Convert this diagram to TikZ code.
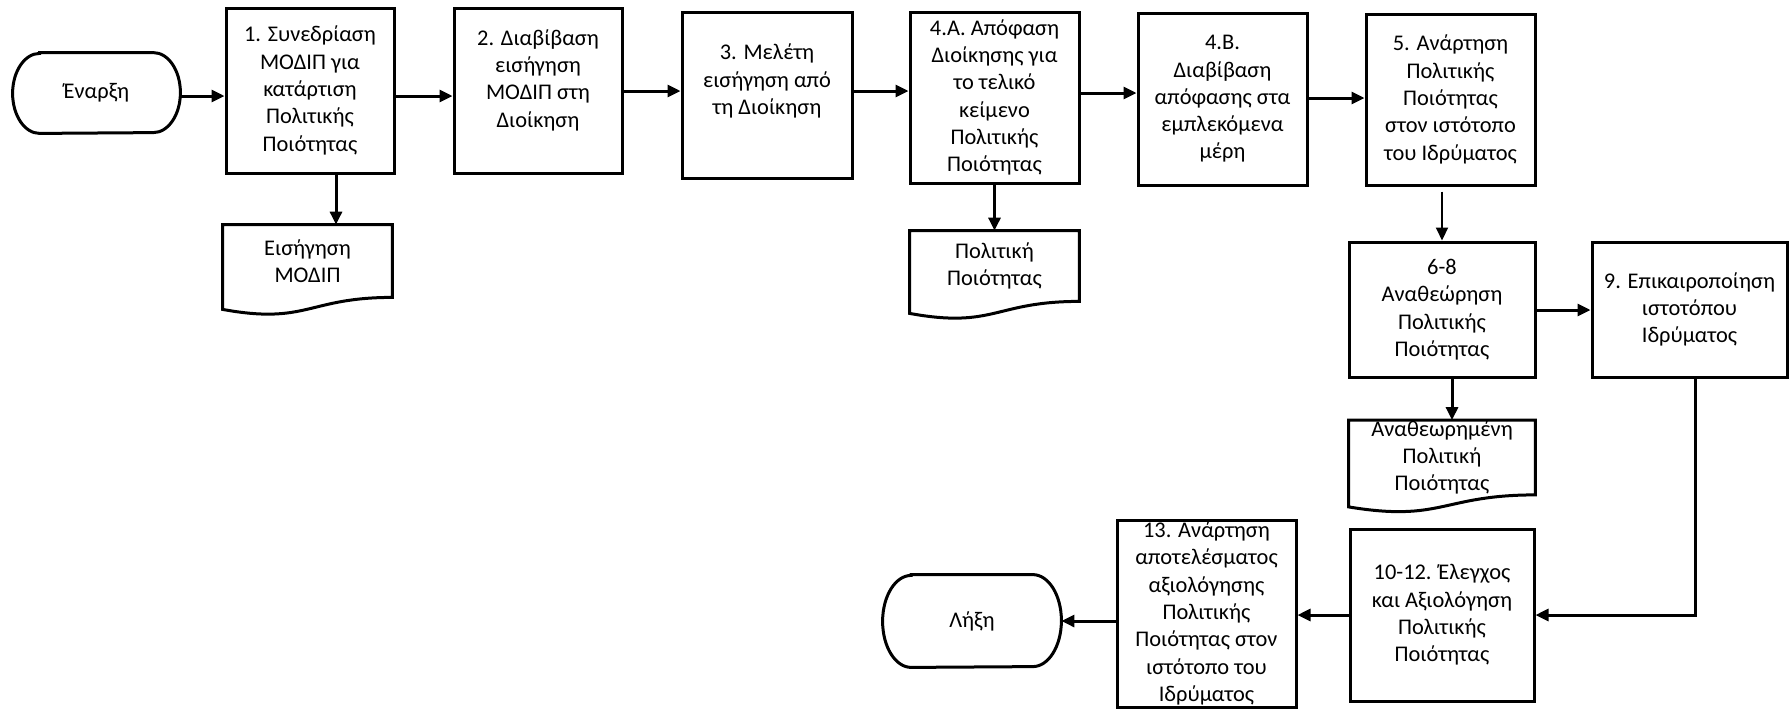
\documentclass[tikz,border=0pt]{standalone}
\usepackage{fontspec}
\setmainfont{Carlito}
\usetikzlibrary{arrows.meta,calc}

% terminator outline around a (borderless) node: #1 node, #2 x radius, #3 y radius
\newcommand\termoutline[3]{%
  \draw[outl] ([xshift=#2]#1.north west) -- ([xshift=-#2]#1.north east)
    arc[start angle=90, end angle=-90, x radius=#2, y radius=#3]
    -- ([xshift=#2]#1.south west)
    arc[start angle=270, end angle=90, x radius=#2, y radius=#3] -- cycle;}

% document outline with a wavy lower edge below a (borderless) node
\newcommand\docoutline[1]{%
  \draw[outl] ($(#1.south west)+(0,12)$)
    .. controls ($(#1.south)+(0,27.5)$) and (#1.south) .. (#1.south east)
    -- (#1.north east) -- (#1.north west) -- cycle;}

\begin{document}
\begin{tikzpicture}[x=0.5pt,y=-0.5pt,
  font=\fontsize{11.2pt}{13.65pt}\selectfont,
  sz/.style 2 args={minimum width=#1*0.5pt, minimum height=#2*0.5pt},
  outl/.style={draw=black, line width=1.5pt, line join=miter},
  txt/.style={align=center, inner sep=0pt},
  stepbox/.style={txt, rectangle, draw=black, line width=1.5pt},
  plainbox/.style={txt, rectangle},
  arr/.style={draw=black, line width=1.5pt, -{Triangle[length=6.5pt,width=6pt]}},
]
\fill[white] (0,0) rectangle (1789,708);
\useasboundingbox (0,0) rectangle (1789,708);

% terminators
\node[plainbox, sz={167}{80}] (start) at (96.5,93) {Έναρξη};
\termoutline{start}{13.5pt}{20pt}
\node[plainbox, sz={178}{92}] (end) at (972,621) {Λήξη};
\termoutline{end}{14.3pt}{23pt}

% process steps
\node[stepbox, sz={168}{165}] (b1) at (310,90.5)
  {1. Συνεδρίαση\\ΜΟΔΙΠ για\\κατάρτιση\\Πολιτικής\\Ποιότητας};
\node[stepbox, sz={168}{165},
  label={[txt, yshift=5.25pt]center:{2. Διαβίβαση\\εισήγηση\\ΜΟΔΙΠ στη\\Διοίκηση}}]
  (b2) at (538,90.5) {};
\node[stepbox, sz={170}{166},
  label={[txt, yshift=7pt]center:{3. Μελέτη\\εισήγηση από\\τη Διοίκηση}}]
  (b3) at (767,95) {};
\node[stepbox, sz={169}{171}] (b4a) at (994.5,97.5)
  {4.Α. Απόφαση\\Διοίκησης για\\το τελικό\\κείμενο\\Πολιτικής\\Ποιότητας};
\node[stepbox, sz={169}{172}] (b4b) at (1222.5,99)
  {4.Β.\\Διαβίβαση\\απόφασης στα\\εμπλεκόμενα\\μέρη};
\node[stepbox, sz={169}{171}] (b5) at (1450.5,99.5)
  {5. Ανάρτηση\\Πολιτικής\\Ποιότητας\\στον ιστότοπο\\του Ιδρύματος};
\node[stepbox, sz={186}{135}] (b68) at (1442,309.5)
  {6-8\\Αναθεώρηση\\Πολιτικής\\Ποιότητας};
\node[stepbox, sz={195}{135}] (b9) at (1689.5,309.5)
  {9. Επικαιροποίηση\\ιστοτόπου\\Ιδρύματος};
\node[stepbox, sz={184}{172}] (b1012) at (1442,615)
  {10-12. Έλεγχος\\και Αξιολόγηση\\Πολιτικής\\Ποιότητας};
\node[stepbox, sz={179}{187}] (b13) at (1206.5,613.5)
  {13. Ανάρτηση\\αποτελέσματος\\αξιολόγησης\\Πολιτικής\\Ποιότητας στον\\ιστότοπο του\\Ιδρύματος};

% documents
\node[plainbox, sz={169}{72}] (d1) at (307.5,261) {Εισήγηση\\ΜΟΔΙΠ};
\docoutline{d1}
\node[plainbox, sz={169}{70}] (d2) at (994.5,266) {Πολιτική\\Ποιότητας};
\docoutline{d2}
\node[plainbox, sz={186}{71}] (d3) at (1442,457.5) {Αναθεωρημένη\\Πολιτική\\Ποιότητας};
\docoutline{d3}

% main flow
\draw[arr] (start.east |- 0,96) -- (b1.west |- 0,96);
\draw[arr] (b1.east |- 0,96) -- (b2.west |- 0,96);
\draw[arr] (b2.east |- 0,91) -- (b3.west |- 0,91);
\draw[arr] (b3.east |- 0,91) -- (b4a.west |- 0,91);
\draw[arr] (b4a.east |- 0,93) -- (b4b.west |- 0,93);
\draw[arr] (b4b.east |- 0,98) -- (b5.west |- 0,98);
\draw[arr, line width=1pt, shorten <=2.5pt] (1442,0 |- b5.south) -- (b68.north);
\draw[arr] (b68.east |- 0,310) -- (b9.west |- 0,310);
\draw[arr] (1695,0 |- b9.south) |- (b1012.east |- 0,615);
\draw[arr] (b1012.west |- 0,615) -- (b13.east |- 0,615);
\draw[arr] (b13.west |- 0,621) -- (end.east |- 0,621);

% document outputs
\draw[arr] (336,0 |- b1.south) -- (336,0 |- d1.north);
\draw[arr] (b4a.south) -- (d2.north);
\draw[arr] (1452,0 |- b68.south) -- (1452,0 |- d3.north);
\end{tikzpicture}
\end{document}
